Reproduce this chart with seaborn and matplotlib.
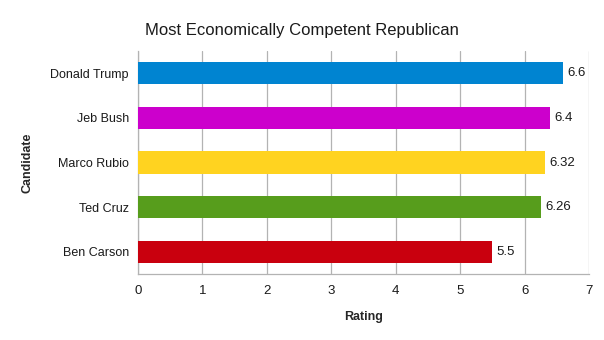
import matplotlib
matplotlib.use("Agg")
import matplotlib.pyplot as plt
import seaborn as sns
import pandas as pd
import numpy as np

candidates = ["Donald Trump", "Jeb Bush", "Marco Rubio", "Ted Cruz", "Ben Carson"]
ratings = [6.6, 6.4, 6.32, 6.26, 5.5]
labels = ["6.6", "6.4", "6.32", "6.26", "5.5"]
colors = ["#0084d1", "#cc00cc", "#ffd320", "#579d1c", "#c9000e"]
xticks = [0, 1, 2, 3, 4, 5, 6, 7]

df = pd.DataFrame({"Candidate": candidates, "Rating": ratings})

sns.set_style("white")
plt.rcParams["font.family"] = ["Liberation Sans", "DejaVu Sans"]

fig = plt.figure(figsize=(6.04, 3.40), dpi=100)
ax = fig.add_axes([138 / 604, 1 - 274 / 340, (589 - 138) / 604, (274 - 51) / 340])

sns.barplot(data=df, x="Rating", y="Candidate", hue="Candidate",
            palette=colors, legend=False, width=0.5, orient="h",
            saturation=1, linewidth=0, ax=ax, zorder=3)

for i, (v, t) in enumerate(zip(ratings, labels)):
    ax.text(v + 0.06, i, t, va="center", ha="left", fontsize=9.5, color="#1a1a1a")

ax.set_xlim(0, 7)
ax.set_ylim(4.5, -0.5)
ax.set_xticks(xticks)
ax.set_xticklabels([str(x) for x in xticks])
ax.xaxis.grid(True, color="#b3b3b3", linewidth=0.9, zorder=0)
ax.yaxis.grid(False)
ax.set_axisbelow(True)

ax.set_yticks(np.arange(-0.5, 5, 1.0), minor=True)
ax.tick_params(axis="y", which="major", length=0, labelsize=9, pad=6.5, labelcolor="#1a1a1a")
ax.tick_params(axis="y", which="minor", length=5, color="#b3b3b3", width=0.9, direction="out")
ax.tick_params(axis="x", which="major", length=5, color="#b3b3b3", width=0.9, direction="out",
               labelsize=9.5, pad=3, labelcolor="#1a1a1a")

for s in ["top", "right"]:
    ax.spines[s].set_visible(False)
for s in ["left", "bottom"]:
    ax.spines[s].set_color("#b3b3b3")
    ax.spines[s].set_linewidth(0.9)

ax.set_xlabel("Rating", fontsize=9, fontweight="bold", labelpad=10)
ax.set_ylabel("Candidate", fontsize=9, fontweight="bold", labelpad=12)

fig.text(0.5, 1 - 30 / 340, "Most Economically Competent Republican",
         ha="center", va="center", fontsize=12, color="#1a1a1a")

fig.savefig("out.png", dpi=100, facecolor="white")
